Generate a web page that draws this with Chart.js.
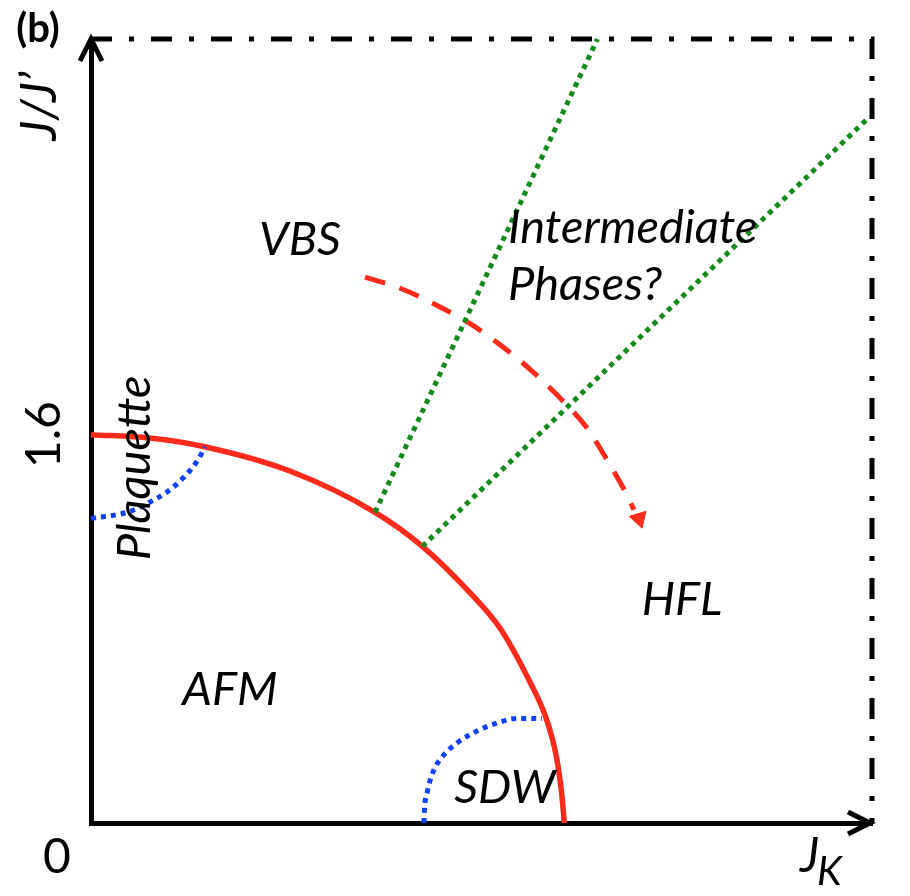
<!DOCTYPE html>
<html>
<head>
<meta charset="utf-8">
<script src="https://cdn.jsdelivr.net/npm/chart.js@4.4.1/dist/chart.umd.min.js"></script>
<style>
  html, body { margin: 0; padding: 0; background: #fff; }
</style>
</head>
<body>
<canvas id="phaseChart" width="910" height="896"></canvas>
<script>
// Axis ranges and ticks
const xRange = [0, 3.3];
const yRange = [0, 3.23];
const xTicks = [0];
const yTicks = [1.6];

// Red solid phase boundary (AFM)
const boundaryX = [0, 0.25, 0.48, 0.84, 1.20, 1.40, 1.60, 1.73, 1.85, 1.92, 1.965, 1.989, 2.0];
const boundaryY = [1.60, 1.586, 1.55, 1.45, 1.28, 1.14, 0.95, 0.80, 0.59, 0.44, 0.28, 0.12, 0];

// Blue dotted: plaquette pocket
const plaquetteX = [0, 0.156, 0.241, 0.321, 0.389, 0.452, 0.482];
const plaquetteY = [1.255, 1.281, 1.318, 1.364, 1.421, 1.496, 1.55];

// Blue dotted: SDW pocket
const sdwX = [1.407, 1.409, 1.420, 1.445, 1.487, 1.547, 1.631, 1.716, 1.800, 1.906];
const sdwY = [0, 0.054, 0.124, 0.210, 0.276, 0.330, 0.379, 0.412, 0.431, 0.431];

// Green dotted: intermediate phase boundaries
const greenAX = [1.20, 2.14];
const greenAY = [1.28, 3.23];
const greenBX = [1.40, 3.29];
const greenBY = [1.14, 2.91];

// Red dashed arrow VBS -> HFL
const arrowX = [1.158, 1.314, 1.475, 1.610, 1.741, 1.868, 1.990, 2.096, 2.180, 2.265, 2.294];
const arrowY = [2.249, 2.200, 2.126, 2.052, 1.961, 1.858, 1.743, 1.627, 1.496, 1.351, 1.290];
const arrowHeadX = [2.316];
const arrowHeadY = [1.254];

// Region labels: [text, x, y]
const regionLabels = [
  ['VBS', 0.883, 2.340],
  ['HFL', 2.497, 0.857],
  ['AFM', 0.587, 0.486],
  ['SDW', 1.749, 0.082]
];

const pts = (xs, ys) => xs.map((x, i) => ({ x, y: ys[i] }));

const RED = '#ff2b1c';
const BLUE = '#1440ff';
const GREEN = '#168a1e';

const line = (data, color, extra) => Object.assign({
  data,
  showLine: true,
  borderColor: color,
  backgroundColor: color,
  borderWidth: 5,
  pointRadius: 0,
  tension: 0,
  clip: false
}, extra);

const curve = { tension: 0.4, cubicInterpolationMode: 'monotone' };

const frameX = [xRange[0], xRange[1], xRange[1]];
const frameY = [yRange[1], yRange[1], yRange[0]];

const axisArrows = {
  id: 'axisArrows',
  afterDatasetsDraw(chart) {
    const { ctx, chartArea: a } = chart;
    ctx.save();
    ctx.strokeStyle = '#000';
    ctx.lineWidth = 5;
    ctx.lineJoin = 'miter';
    ctx.beginPath();
    ctx.moveTo(a.left - 11, a.top + 22);
    ctx.lineTo(a.left, a.top);
    ctx.lineTo(a.left + 11, a.top + 22);
    ctx.stroke();
    ctx.beginPath();
    ctx.moveTo(a.right - 24, a.bottom - 11);
    ctx.lineTo(a.right - 2, a.bottom);
    ctx.lineTo(a.right - 24, a.bottom + 11);
    ctx.stroke();
    ctx.restore();
  }
};

const textLayer = {
  id: 'textLayer',
  afterDraw(chart) {
    const { ctx, chartArea: a, scales: { x, y } } = chart;
    ctx.save();
    ctx.fillStyle = '#000';

    // region names
    ctx.font = 'italic 47px Lato';
    ctx.textAlign = 'center';
    ctx.textBaseline = 'alphabetic';
    regionLabels.forEach(([t, vx, vy]) => {
      ctx.fillText(t, x.getPixelForValue(vx), y.getPixelForValue(vy));
    });
    ctx.textAlign = 'left';
    ctx.fillText('Intermediate', x.getPixelForValue(1.762), y.getPixelForValue(2.390));
    ctx.fillText('Phases?', x.getPixelForValue(1.762), y.getPixelForValue(2.155));

    // rotated Plaquette
    ctx.save();
    ctx.translate(x.getPixelForValue(0.249), y.getPixelForValue(1.463));
    ctx.rotate(-Math.PI / 2);
    ctx.textAlign = 'center';
    ctx.fillText('Plaquette', 0, 0);
    ctx.restore();

    // tick labels
    ctx.font = '48px Lato';
    ctx.textAlign = 'center';
    xTicks.forEach(v => {
      ctx.fillText(String(v), x.getPixelForValue(v) - 34, a.bottom + 50);
    });
    yTicks.forEach(v => {
      ctx.save();
      ctx.translate(a.left - 31, y.getPixelForValue(v));
      ctx.rotate(-Math.PI / 2);
      ctx.fillText(String(v), 0, 0);
      ctx.restore();
    });

    // axis titles
    ctx.save();
    ctx.font = 'italic 50px Lato';
    ctx.translate(a.left - 35, a.top + 67);
    ctx.rotate(-Math.PI / 2);
    ctx.textAlign = 'center';
    ctx.fillText('J/J\u2019', 0, 0);
    ctx.restore();

    ctx.textAlign = 'left';
    ctx.font = 'italic 48px Lato';
    ctx.fillText('J', a.right - 72, a.bottom + 49);
    ctx.font = 'italic 40px Lato';
    ctx.fillText('K', a.right - 55, a.bottom + 62);

    // panel tag
    ctx.font = 'bold 40px Lato';
    ctx.textAlign = 'center';
    ctx.fillText('(b)', 38, 42);
    ctx.restore();
  }
};

new Chart(document.getElementById('phaseChart'), {
  type: 'scatter',
  data: {
    datasets: [
      line(pts(frameX, frameY), '#000', { borderDash: [21, 17, 5, 17] }),
      line(pts(greenAX, greenAY), GREEN, { borderDash: [5, 5] }),
      line(pts(greenBX, greenBY), GREEN, { borderDash: [5, 5] }),
      line(pts(plaquetteX, plaquetteY), BLUE, Object.assign({ borderDash: [5, 5] }, curve)),
      line(pts(sdwX, sdwY), BLUE, Object.assign({ borderDash: [5, 5] }, curve)),
      line(pts(boundaryX, boundaryY), RED, Object.assign({ borderWidth: 5.5 }, curve)),
      line(pts(arrowX, arrowY), RED, Object.assign({ borderDash: [21, 15] }, curve)),
      {
        data: pts(arrowHeadX, arrowHeadY),
        pointStyle: 'triangle',
        pointRadius: 10,
        rotation: 163,
        backgroundColor: RED,
        borderColor: RED,
        borderWidth: 1,
        clip: false
      }
    ]
  },
  options: {
    responsive: false,
    devicePixelRatio: 1,
    animation: false,
    layout: { padding: { left: 91, top: 39, right: 38, bottom: 73 } },
    plugins: { legend: { display: false }, tooltip: { enabled: false } },
    scales: {
      x: {
        type: 'linear', min: xRange[0], max: xRange[1],
        grid: { display: false },
        border: { display: true, color: '#000', width: 5 },
        ticks: { display: false },
        afterBuildTicks: s => { s.ticks = xTicks.map(value => ({ value })); },
        afterFit: s => { s.height = 0; }
      },
      y: {
        type: 'linear', min: yRange[0], max: yRange[1],
        grid: { display: false },
        border: { display: true, color: '#000', width: 5 },
        ticks: { display: false },
        afterBuildTicks: s => { s.ticks = yTicks.map(value => ({ value })); },
        afterFit: s => { s.width = 0; }
      }
    }
  },
  plugins: [axisArrows, textLayer]
});
</script>
</body>
</html>
